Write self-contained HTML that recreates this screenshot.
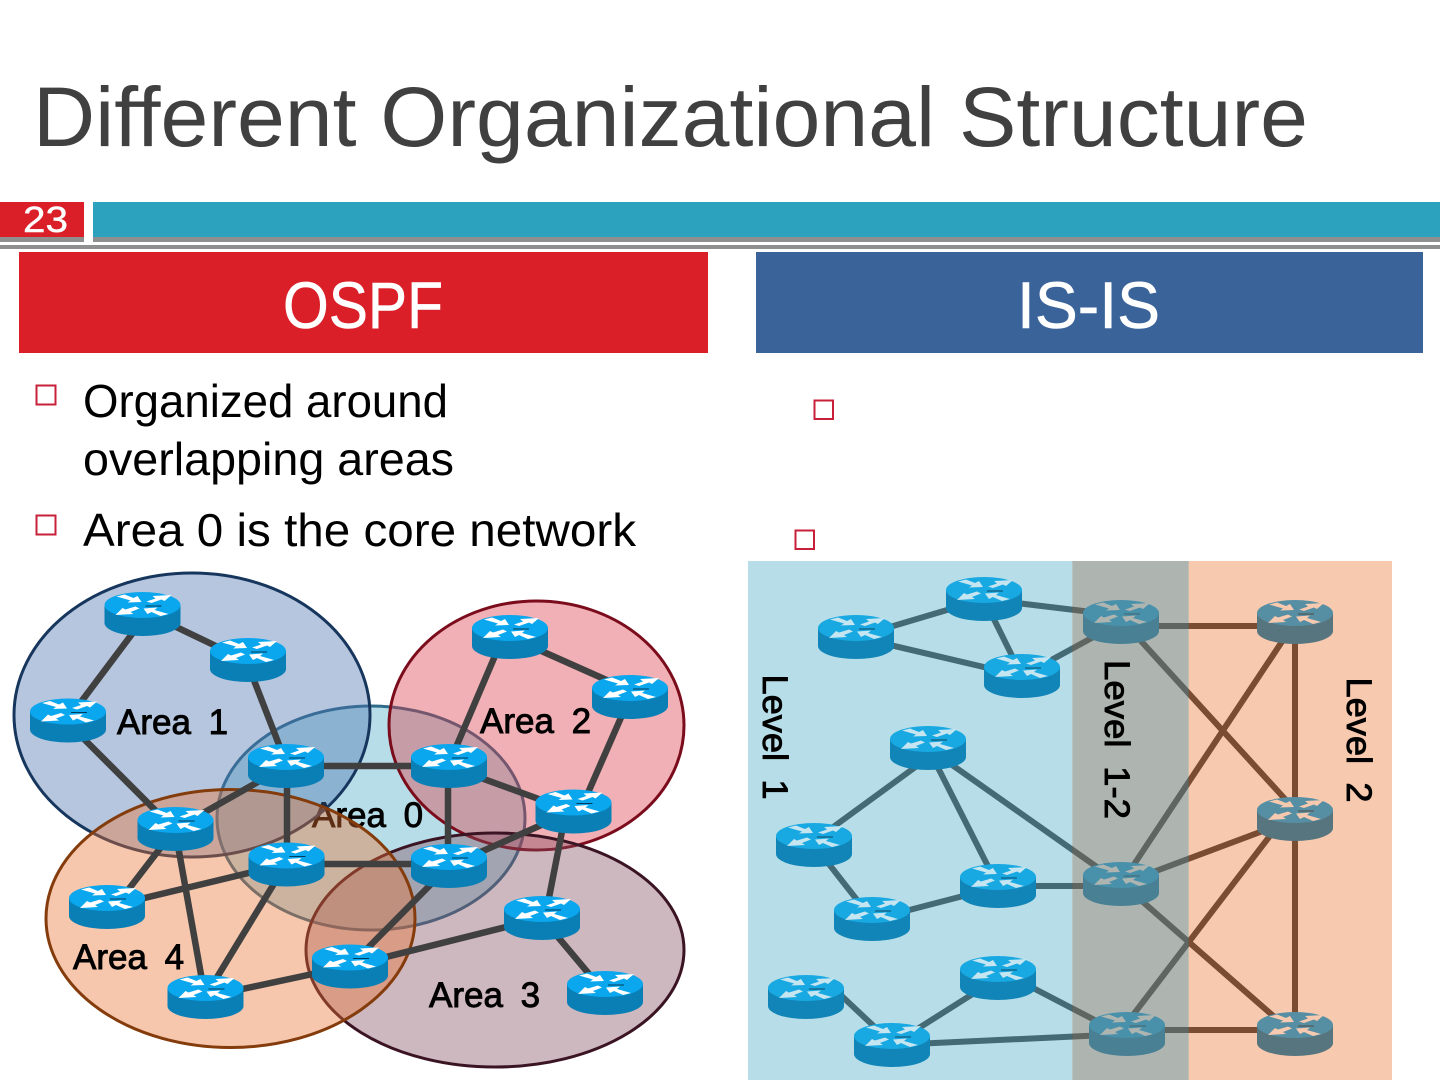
<!DOCTYPE html>
<html lang="en">
<head>
<meta charset="utf-8">
<title>Different Organizational Structure</title>
<style>
html,body{margin:0;padding:0;background:#fff;width:1440px;height:1080px;overflow:hidden}
svg{display:block}
text{font-family:"Liberation Sans",sans-serif}
.lbl{font-size:35px;fill:#000;stroke:#000;stroke-width:.9;word-spacing:8px}
.bt{font-size:46px;fill:#000}
.hd{font-size:66px;fill:#fff;stroke:#fff;stroke-width:.6}
.ln{stroke:#404040;stroke-width:6.5;fill:none}
.ln2{stroke:#404040;stroke-width:6;fill:none}
</style>
</head>
<body>
<svg width="1440" height="1080" viewBox="0 0 1440 1080" xmlns="http://www.w3.org/2000/svg">
<defs>
<g id="ar">
<polygon points="-26,-8.500 -18,-10.500 -9,-7 -5,-9 -1,-3 -15,-2.500 -12,-4.500"/>
<polygon points="4,-3.500 13,-6.500 10,-9 29,-10 22,-4 19,-5.500 9,-2"/>
<polygon points="-27,10 -20,3 -17,4.500 -7,1.500 -3,3.500 -12,7 -9,9"/>
<polygon points="26,9 18,11 9,7 5,9 1,3.500 15,2.500 12,5"/>
</g>
<g id="r">
<path d="M-38,-9V9A38,13 0 0 0 38,9V-9Z" fill="#0a7fb6"/>
<ellipse cx="0" cy="-9" rx="38" ry="13" fill="#0aa6ee"/>
<use href="#ar" y="-9" fill="#fff"/>
<path d="M3,-8H19" stroke="#023" stroke-width=".8"/>
</g>
<g id="r1">
<path d="M-38,-9V9A38,13 0 0 0 38,9V-9Z" fill="#1285b8"/>
<ellipse cx="0" cy="-9" rx="38" ry="13" fill="#18a8e2"/>
<use href="#ar" y="-9" fill="#c5e5f0"/>
<path d="M3,-8H19" stroke="#134" stroke-width=".8"/>
</g>
</defs>

<text x="33" y="146" font-size="84" fill="#404040" textLength="1275" lengthAdjust="spacingAndGlyphs">Different Organizational Structure</text>

<rect x="0" y="202" width="84" height="36" fill="#da1f28"/>
<rect x="0" y="237" width="84" height="5" fill="#8f8f8f"/>
<rect x="93" y="202" width="1347" height="36" fill="#2da2bf"/>
<rect x="93" y="237" width="1347" height="5" fill="#8f8f8f"/>
<rect x="0" y="245" width="1440" height="4" fill="#8f8f8f"/>
<text x="23" y="232" font-size="36" fill="#fff" stroke="#fff" stroke-width=".4" textLength="45" lengthAdjust="spacingAndGlyphs">23</text>

<rect x="19" y="252" width="689" height="101" fill="#da1f28"/>
<rect x="756" y="252" width="667" height="101" fill="#3a6399"/>
<text class="hd" x="283" y="328" textLength="160" lengthAdjust="spacingAndGlyphs">OSPF</text>
<text class="hd" x="1017" y="328" textLength="143" lengthAdjust="spacingAndGlyphs">IS-IS</text>

<g fill="none" stroke="#c9203a" stroke-width="2">
<rect x="36.500" y="385.500" width="19" height="19"/>
<rect x="36.500" y="515.500" width="19" height="19"/>
<rect x="814.500" y="400.500" width="18.500" height="18.500"/>
<rect x="795.500" y="530.500" width="18.500" height="18.500"/>
</g>
<text class="bt" x="83" y="417" textLength="365" lengthAdjust="spacingAndGlyphs">Organized around</text>
<text class="bt" x="83" y="475" textLength="371" lengthAdjust="spacingAndGlyphs">overlapping areas</text>
<text class="bt" x="83" y="546" textLength="553" lengthAdjust="spacingAndGlyphs">Area 0 is the core network</text>

<!-- OSPF areas -->
<ellipse cx="371" cy="818" rx="154" ry="112" fill="#4bacc6" fill-opacity=".4" stroke="#2f6c8a" stroke-width="3"/>
<text class="lbl" x="312" y="827">Area 0</text>
<ellipse cx="192" cy="715" rx="178" ry="142" fill="#4870ac" fill-opacity=".4" stroke="#17365d" stroke-width="3"/>
<ellipse cx="536.500" cy="725.500" rx="147.500" ry="124.500" fill="#dc3945" fill-opacity=".4" stroke="#7b0c1c" stroke-width="3"/>
<ellipse cx="495" cy="950" rx="189" ry="117" fill="#844d5f" fill-opacity=".4" stroke="#3b1424" stroke-width="3"/>
<ellipse cx="230.500" cy="918.500" rx="184.500" ry="129" fill="#eb7332" fill-opacity=".4" stroke="#843c0c" stroke-width="3"/>
<text class="lbl" x="117" y="734">Area 1</text>
<text class="lbl" x="480" y="733">Area 2</text>
<text class="lbl" x="429" y="1007">Area 3</text>
<text class="lbl" x="73" y="969">Area 4</text>

<!-- OSPF links -->
<g class="ln">
<path d="M170,624L220,648M135,630L75,710M250,670L283,755M75,730L165,820"/>
<path d="M286,766H449M287,766V864M286,766L175,829M448,766V866M448,766L573,811.500M503,637L448,766"/>
<path d="M510,637L620,686M630,697L580,811M573,811L449,866M566,811L545,918"/>
<path d="M175,829L115,907M175,829L205,997M286,864H449M286,864L107,907M286,864L205,997"/>
<path d="M449,866L350,966M205,997L350,966M350,966L542,918M542,918L605,993"/>
</g>

<!-- OSPF routers -->
<use href="#r" x="142.500" y="614"/>
<use href="#r" x="248" y="660"/>
<use href="#r" x="68" y="720.500"/>
<use href="#r" x="286" y="766"/>
<use href="#r" x="449" y="766"/>
<use href="#r" x="573.500" y="811.500"/>
<use href="#r" x="175.500" y="829"/>
<use href="#r" x="286.500" y="864.500"/>
<use href="#r" x="449" y="866"/>
<use href="#r" x="107" y="907"/>
<use href="#r" x="205.500" y="997"/>
<use href="#r" x="350" y="966.500"/>
<use href="#r" x="542" y="918"/>
<use href="#r" x="605" y="993"/>
<use href="#r" x="510" y="637"/>
<use href="#r" x="630" y="697"/>

<!-- IS-IS links -->
<g class="ln2">
<path d="M856,637L984,599M856,637L1022,676M984,599L1022,676M1000,601L1100,613M1022,676L1121,622"/>
<path d="M925,760L825,833M928,748L998,886M928,748L1121,884M814,845L872,919M890,915L998,887M998,886H1121"/>
<path d="M830,985L880,1032M892,1045L998,978M892,1045L1127,1034M1010,976L1110,1028"/>
<path d="M1121,626H1295M1130,629L1295,810M1121,884L1295,622M1121,884L1295,819M1135,895L1295,1035"/>
<path d="M1120,1032L1295,803M1127,1030H1295M1295,622V1034"/>
</g>

<!-- routers under overlays (Level 1-2 and Level 2) -->
<use href="#r" x="1121" y="622"/>
<use href="#r" x="1121" y="884"/>
<use href="#r" x="1127" y="1034"/>
<use href="#r" x="1295" y="622"/>
<use href="#r" x="1295" y="819"/>
<use href="#r" x="1295" y="1034"/>

<!-- overlays -->
<rect x="748" y="561" width="324.300" height="519" fill="#4bacc6" fill-opacity=".4"/>
<rect x="1072.300" y="561" width="116.400" height="519" fill="#76827a" fill-opacity=".59"/>
<rect x="1188.700" y="561" width="203.300" height="519" fill="#e86318" fill-opacity=".346"/>

<!-- Level 1 routers -->
<use href="#r1" x="856" y="637"/>
<use href="#r1" x="984" y="599"/>
<use href="#r1" x="1022" y="676"/>
<use href="#r1" x="928" y="748"/>
<use href="#r1" x="814" y="845"/>
<use href="#r1" x="872" y="919"/>
<use href="#r1" x="998" y="886"/>
<use href="#r1" x="806" y="997"/>
<use href="#r1" x="892" y="1045"/>
<use href="#r1" x="998" y="978"/>

<text class="lbl" transform="translate(763,674.500) rotate(90)" textLength="125" lengthAdjust="spacingAndGlyphs">Level 1</text>
<text class="lbl" transform="translate(1105,660) rotate(90)" textLength="159" lengthAdjust="spacingAndGlyphs">Level 1-2</text>
<text class="lbl" transform="translate(1347,677.500) rotate(90)" textLength="125" lengthAdjust="spacingAndGlyphs">Level 2</text>
</svg>
</body>
</html>
